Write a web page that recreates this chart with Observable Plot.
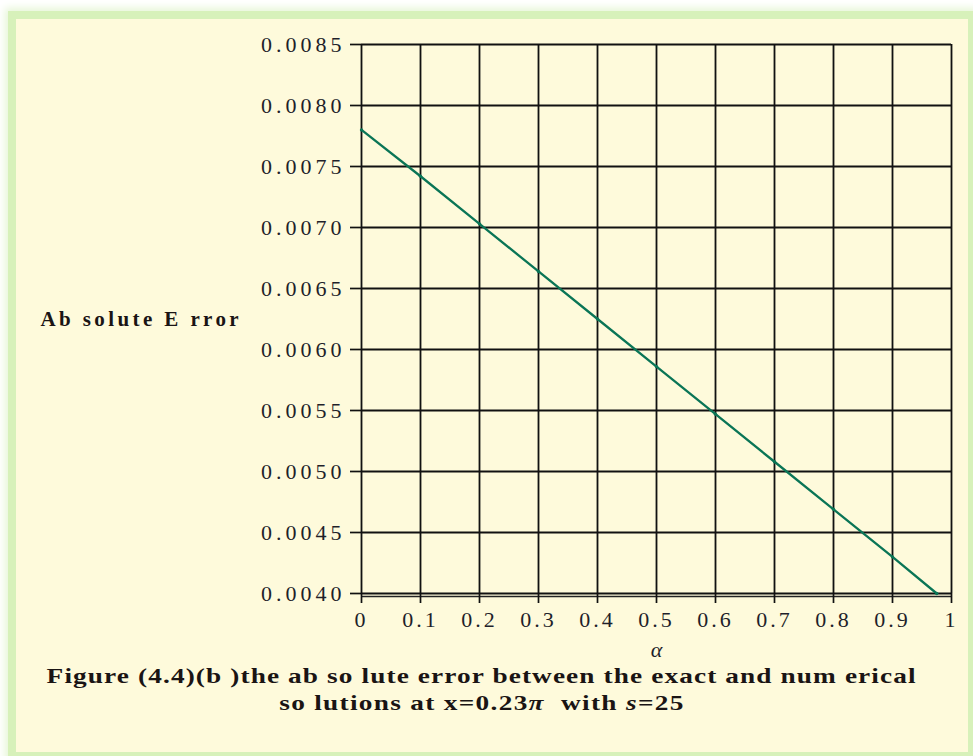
<!DOCTYPE html>
<html>
<head>
<meta charset="utf-8">
<script src="https://cdn.jsdelivr.net/npm/d3@7"></script>
<script src="https://cdn.jsdelivr.net/npm/@observablehq/plot@0.6"></script>
<style>
  html, body { margin: 0; padding: 0; background: #ffffff; width: 973px; height: 756px; overflow: hidden; }
  #frame {
    position: absolute; left: 8px; top: 11px; width: 952px; height: 733px;
    background: #FEFADB; border: 8px solid #D7F1BA;
    box-shadow: 0 0 8px 3px #E6F6D6;
  }
  #chart { position: absolute; left: 0; top: 0; }
  .cap {
    position: absolute; left: 0; width: 964px; text-align: center;
    font-family: "Liberation Serif", "Times New Roman", serif; font-weight: bold;
    font-size: 21px; line-height: 27px; color: #1a1414;
  }
  .cap span { display: inline-block; transform: scaleX(1.3); transform-origin: center; letter-spacing: 1px; white-space: pre; }
</style>
</head>
<body>
<div id="frame"></div>
<div id="chart"></div>
<div class="cap" style="top:663px;"><span style="letter-spacing:0.85px;">Figure (4.4)(b )the ab so lute error between the exact and num erical</span></div>
<div class="cap" style="top:690px;"><span>so lutions at x=0.23<i>π</i>  with <i>s</i>=25</span></div>
<script>
// ---- data ----
const alpha = [0, 0.1, 0.2, 0.3, 0.4, 0.5, 0.6, 0.7, 0.8, 0.9, 0.975];
const absError = [0.00780, 0.00742, 0.00703, 0.00664, 0.00625, 0.00586, 0.00547, 0.00508, 0.00469, 0.00430, 0.00400];
const xTicks = [0, 0.1, 0.2, 0.3, 0.4, 0.5, 0.6, 0.7, 0.8, 0.9, 1];
const xTickLabels = ["0", "0.1", "0.2", "0.3", "0.4", "0.5", "0.6", "0.7", "0.8", "0.9", "1"];
const yTicks = [0.0040, 0.0045, 0.0050, 0.0055, 0.0060, 0.0065, 0.0070, 0.0075, 0.0080, 0.0085];
const yTickLabels = ["0.0040", "0.0045", "0.0050", "0.0055", "0.0060", "0.0065", "0.0070", "0.0075", "0.0080", "0.0085"];
const yLabel = "Ab solute E rror";
const xLabel = "α";

const rows = alpha.map((a, i) => ({a, e: absError[i]}));
const xFmt = d => xTickLabels[xTicks.indexOf(d)];
const yFmt = d => yTickLabels[yTicks.findIndex(t => Math.abs(t - d) < 1e-9)];

const chart = Plot.plot({
  width: 973,
  height: 670,
  marginLeft: 361,
  marginRight: 22,
  marginTop: 44,
  marginBottom: 77,
  style: {background: "transparent", fontFamily: "Liberation Serif, Times New Roman, serif", fontSize: "22px"},
  x: {domain: [0, 1]},
  y: {domain: [0.0040, 0.0085]},
  marks: [
    Plot.ruleX(xTicks, {stroke: "#111", strokeWidth: 1.8}),
    Plot.ruleY(yTicks, {stroke: "#111", strokeWidth: 1.8}),
    Plot.ruleY([yTicks[0]], {stroke: "#222", strokeWidth: 1.6, dy: 3}),
    Plot.axisY({ticks: yTicks, tickFormat: yFmt, tickSize: 11, tickPadding: 5, stroke: "#111", strokeWidth: 1.7, fill: "#1f1f2a", fontSize: 22, label: null}),
    Plot.axisX({ticks: xTicks, tickFormat: xFmt, tickSize: 10, tickPadding: 8, stroke: "#111", strokeWidth: 1.7, fill: "#1f1f2a", fontSize: 22, label: null}),
    Plot.line(rows, {x: "a", y: "e", stroke: "#0A7556", strokeWidth: 2.3}),
    Plot.dot(rows, {x: "a", y: "e", r: 1.7, fill: "#0A7556"}),
    Plot.text([xLabel], {frameAnchor: "bottom", lineAnchor: "middle", dy: 56, fontSize: 22, fontStyle: "italic", fill: "#1f1f2a"}),
    Plot.text([yLabel], {frameAnchor: "left", lineAnchor: "middle", dx: -321, textAnchor: "start", fontSize: 21, fontWeight: "bold", fill: "#1a1414"})
  ]
});
// horizontal stretch of the reference text, via letter spacing
d3.select(chart).selectAll('g[aria-label="y-axis tick label"] text').style("letter-spacing", "4px");
d3.select(chart).selectAll('g[aria-label="x-axis tick label"] text').style("letter-spacing", "3px");
d3.select(chart).selectAll("text").filter(function() { return this.textContent === yLabel; }).style("letter-spacing", "3.4px");
document.getElementById("chart").appendChild(chart);
</script>
</body>
</html>
